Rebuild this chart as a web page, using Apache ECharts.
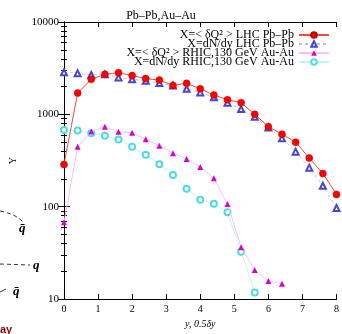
<!DOCTYPE html>
<html>
<head>
<meta charset="utf-8">
<script src="https://cdn.jsdelivr.net/npm/echarts@6/dist/echarts.min.js"></script>
<style>
  html, body { margin: 0; padding: 0; background: #fff; }
  #chart { width: 342px; height: 334px; }
</style>
</head>
<body>
<div id="chart"></div>
<script>
// rapidity points (0 .. 8, step 0.4)
const yValues = [0, 0.4, 0.8, 1.2, 1.6, 2.0, 2.4, 2.8, 3.2, 3.6, 4.0, 4.4, 4.8, 5.2, 5.6, 6.0, 6.4, 6.8, 7.2, 7.6, 8.0];

const lhcQ2 = [287, 1700, 2400, 2710, 2830, 2630, 2440, 2350, 2060, 2170, 1890, 1620, 1440, 1340, 1000, 736, 611, 500, 337, 229, 136];
const lhcDndy = [2850, 2780, 2670, 2710, 2510, 2400, 2310, 2180, 2050, 1890, 1730, 1530, 1340, 1140, 944, 723, 551, 395, 265, 169, 97];
const rhicQ2 = [68, 446, 652, 736, 647, 632, 537, 457, 380, 329, 269, 203, 107, 36.5, 20.6, 15.7, 14.7];
const rhicDndy = [679, 668, 626, 587, 533, 446, 365, 289, 220, 157, 119, 108, 87, 32.6, 11.8];

const seriesNames = [
  'X=< δQ² > LHC Pb–Pb',
  'X=dN/dy LHC Pb–Pb',
  'X=< δQ² > RHIC,130 GeV Au-Au',
  'X=dN/dy RHIC,130 GeV Au-Au'
];
const yTickLabels = [10, 100, 1000, 10000];
const xTickLabels = [0, 1, 2, 3, 4, 5, 6, 7, 8];

const FONT = 'Liberation Serif';

function pairs(vals) {
  return vals.map((v, i) => [yValues[i], v]);
}

const chart = echarts.init(document.getElementById('chart'));

const axisCommon = {
  axisLine: { show: true, lineStyle: { color: '#000', width: 1 } },
  splitLine: { show: false }
};

chart.setOption({
  animation: false,
  title: {
    text: 'Pb–Pb,Au–Au',
    left: 156,
    top: 5,
    textAlign: 'center',
    textStyle: { fontFamily: FONT, fontSize: 12, fontWeight: 'normal', color: '#000' }
  },
  legend: {
    data: seriesNames,
    orient: 'vertical',
    right: 7,
    top: 24,
    align: 'right',
    itemGap: -3,
    itemWidth: 30,
    itemHeight: 7,
    textStyle: { fontFamily: FONT, fontSize: 12, color: '#000' }
  },
  grid: { left: 61, right: 3, top: 22, bottom: 26 },
  xAxis: [
    Object.assign({}, axisCommon, {
      type: 'value',
      min: 0,
      max: 8,
      interval: 1,
      name: 'y, 0.5δy',
      nameLocation: 'middle',
      nameGap: 19,
      nameTextStyle: { fontFamily: FONT, fontStyle: 'italic', fontSize: 10, color: '#000' },
      axisTick: { inside: true, length: 5, lineStyle: { color: '#000' } },
      axisLabel: {
        fontFamily: FONT, fontSize: 10, color: '#000', margin: 5,
        formatter: v => xTickLabels.includes(v) ? String(v) : ''
      }
    }),
    Object.assign({}, axisCommon, {
      type: 'value',
      position: 'top',
      min: 0,
      max: 8,
      interval: 1,
      axisTick: { inside: true, length: 5, lineStyle: { color: '#000' } },
      axisLabel: { show: false }
    })
  ],
  yAxis: [
    Object.assign({}, axisCommon, {
      type: 'log',
      logBase: 10,
      min: 10,
      max: 10000,
      name: 'Y',
      nameLocation: 'middle',
      nameGap: 46,
      nameRotate: 90,
      nameTextStyle: { fontFamily: FONT, fontSize: 10, color: '#000' },
      axisTick: { inside: true, length: 6, lineStyle: { color: '#000' } },
      minorTick: { show: true, splitNumber: 9, length: 3, lineStyle: { color: '#000' } },
      axisLabel: {
        fontFamily: FONT, fontSize: 11, color: '#000', margin: 5,
        formatter: v => {
          const r = Math.round(v);
          return yTickLabels.includes(r) ? String(r) : '';
        }
      }
    }),
    Object.assign({}, axisCommon, {
      type: 'log',
      logBase: 10,
      min: 10,
      max: 10000,
      position: 'right',
      axisTick: { inside: true, length: 6, lineStyle: { color: '#000' } },
      minorTick: { show: true, splitNumber: 9, length: 3, lineStyle: { color: '#000' } },
      axisLabel: { show: false }
    })
  ],
  graphic: [
    // fragments of the neighbouring figure at the left edge
    { type: 'bezierCurve', shape: { x1: 0, y1: 211, x2: 24, y2: 223, cpx1: 10, cpy1: 213, cpx2: 18, cpy2: 216 },
      style: { stroke: '#333', lineWidth: 1, lineDash: [4, 3] } },
    { type: 'line', shape: { x1: 0, y1: 264, x2: 30, y2: 265 },
      style: { stroke: '#333', lineWidth: 1, lineDash: [4, 3] } },
    { type: 'line', shape: { x1: 0, y1: 292, x2: 6, y2: 289 },
      style: { stroke: '#333', lineWidth: 1 } },
    { type: 'text', left: 19, top: 222, style: { text: 'q̄', font: 'bold italic 13px ' + FONT, fill: '#000' } },
    { type: 'text', left: 33, top: 259, style: { text: 'q', font: 'bold italic 13px ' + FONT, fill: '#000' } },
    { type: 'text', left: 13, top: 285, style: { text: 'q̄', font: 'bold italic 13px ' + FONT, fill: '#000' } },
    { type: 'text', left: 0, top: 324, style: { text: 'ay', font: 'bold 11px Liberation Sans', fill: '#8b0000' } }
  ],
  series: [
    {
      name: seriesNames[0],
      type: 'line',
      data: pairs(lhcQ2),
      symbol: 'circle',
      symbolSize: 7,
      z: 5,
      itemStyle: { color: '#ff0000', borderColor: '#c00000', borderWidth: 0.5 },
      lineStyle: { color: '#e8503a', width: 1 }
    },
    {
      name: seriesNames[1],
      type: 'line',
      data: pairs(lhcDndy),
      symbol: 'emptyTriangle',
      symbolSize: 6,
      z: 4,
      itemStyle: { color: '#4848c8', borderWidth: 1 },
      lineStyle: { color: '#c0c0f0', width: 1, type: [3, 3] }
    },
    {
      name: seriesNames[2],
      type: 'line',
      data: pairs(rhicQ2),
      symbol: 'triangle',
      symbolSize: 6,
      z: 4,
      itemStyle: { color: '#d800d8' },
      lineStyle: { color: '#f8c0f4', width: 1 }
    },
    {
      name: seriesNames[3],
      type: 'line',
      data: pairs(rhicDndy),
      symbol: 'emptyCircle',
      symbolSize: 6,
      z: 3,
      itemStyle: { color: '#50dcdc', borderWidth: 1 },
      lineStyle: { color: '#c4f4f4', width: 1 }
    }
  ]
});
</script>
</body>
</html>
